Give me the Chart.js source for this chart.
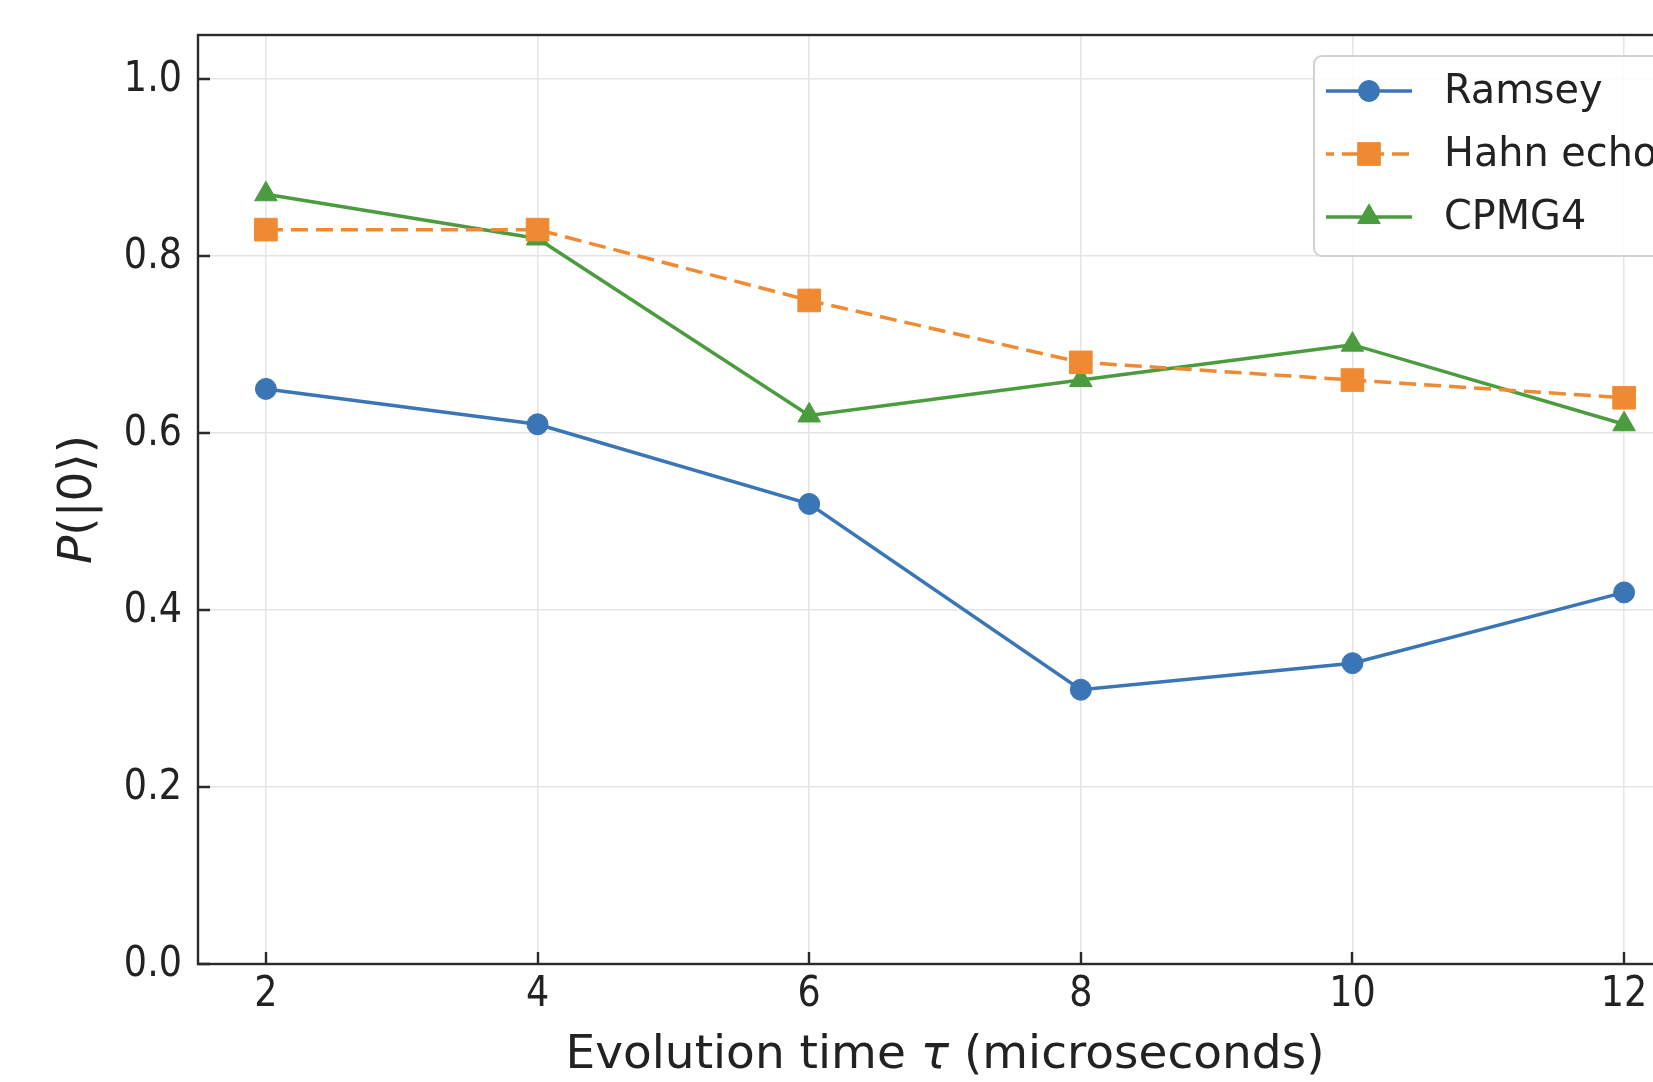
<!DOCTYPE html>
<html>
<head>
<meta charset="utf-8">
<script src="https://cdn.jsdelivr.net/npm/chart.js@4/dist/chart.umd.min.js"></script>
<style>
html,body{margin:0;padding:0;overflow:hidden;background:#fff;width:1653px;height:1082px;}
#wrap{width:1720px;height:1082px;}
</style>
</head>
<body>
<div id="wrap"><canvas id="c" width="1720" height="1082"></canvas></div>
<script>
const tau = [2, 4, 6, 8, 10, 12];
const ramsey = [0.65, 0.61, 0.52, 0.31, 0.34, 0.42];
const hahnEcho = [0.83, 0.83, 0.75, 0.68, 0.66, 0.64];
const cpmg4 = [0.87, 0.82, 0.62, 0.66, 0.70, 0.61];
const xTickValues = [2, 4, 6, 8, 10, 12];
const yTickValues = [0.0, 0.2, 0.4, 0.6, 0.8, 1.0];
const xTickLabels = ['2', '4', '6', '8', '10', '12'];
const yTickLabels = ['0.0', '0.2', '0.4', '0.6', '0.8', '1.0'];
const seriesNames = ['Ramsey', 'Hahn echo', 'CPMG4'];
const xTitleParts = [['Evolution time ', false], ['τ', true], [' (microseconds)', false]];
const yTitleParts = [['P', true], ['(|0⟩)', false]];

const FONT = 'DejaVu Sans';
const TICK_SIZE = 43, TICK_SX = 0.85, LEGEND_SIZE = 41, LEGEND_SX = 0.97, TITLE_SIZE = 47;
const BLUE = '#3a76b6', ORANGE = '#f08a32', GREEN = '#4a9c3e';
const INK = '#222';

function pts(vals){ return tau.map((x,i)=>({x:x, y:vals[i]})); }

function drawParts(ctx, parts, size, cx, cy){
  const widths = parts.map(([t, it])=>{ ctx.font = (it?'italic ':'') + size + 'px "' + FONT + '"'; return ctx.measureText(t).width; });
  const total = widths.reduce((a,b)=>a+b, 0);
  let x = cx - total/2;
  ctx.textAlign = 'left';
  ctx.textBaseline = 'middle';
  parts.forEach(([t, it], i)=>{
    ctx.font = (it?'italic ':'') + size + 'px "' + FONT + '"';
    ctx.fillText(t, x, cy);
    x += widths[i];
  });
}

function drawScaledText(ctx, text, x, y, sx, align){
  ctx.save();
  ctx.translate(x, y);
  ctx.scale(sx, 1);
  ctx.textAlign = align;
  ctx.textBaseline = 'middle';
  ctx.fillText(text, 0, 0);
  ctx.restore();
}

const framePlugin = {
  id: 'frame',
  afterDatasetsDraw(chart){
    const {ctx, chartArea:a, scales} = chart;
    ctx.save();
    ctx.strokeStyle = '#2a2a2a';
    ctx.lineWidth = 2.4;
    ctx.beginPath();
    yTickValues.forEach(v=>{
      const y = Math.round(scales.y.getPixelForValue(v));
      ctx.moveTo(a.left, y); ctx.lineTo(a.left + 12, y);
    });
    xTickValues.forEach(v=>{
      const x = Math.round(scales.x.getPixelForValue(v));
      ctx.moveTo(x, a.bottom); ctx.lineTo(x, a.bottom - 12);
    });
    ctx.stroke();
    ctx.strokeRect(a.left, a.top, a.right - a.left, a.bottom - a.top);
    // tick labels
    ctx.fillStyle = INK;
    ctx.font = TICK_SIZE + 'px "' + FONT + '"';
    yTickValues.forEach((v, i)=>{
      drawScaledText(ctx, yTickLabels[i], a.left - 16, scales.y.getPixelForValue(v) + 1, TICK_SX, 'right');
    });
    xTickValues.forEach((v, i)=>{
      drawScaledText(ctx, xTickLabels[i], scales.x.getPixelForValue(v), a.bottom + 31, TICK_SX, 'center');
    });
    ctx.restore();
  }
};

const legendPlugin = {
  id: 'customLegend',
  afterDraw(chart){
    const ctx = chart.ctx;
    const bx = 1314, by = 56, bw = 420, bh = 200;
    ctx.save();
    ctx.fillStyle = 'rgba(255,255,255,0.85)';
    ctx.strokeStyle = '#d2d2d2';
    ctx.lineWidth = 2;
    ctx.beginPath();
    ctx.roundRect(bx, by, bw, bh, 8);
    ctx.fill(); ctx.stroke();
    const rows = [91, 154, 217];
    chart.data.datasets.forEach((ds, i)=>{
      const y = rows[i];
      ctx.strokeStyle = ds.borderColor;
      ctx.lineWidth = ds.borderWidth;
      ctx.setLineDash(ds.borderDash || []);
      ctx.lineDashOffset = ds.borderDash ? 9 : 0;
      ctx.beginPath(); ctx.moveTo(1326, y); ctx.lineTo(1412, y); ctx.stroke();
      ctx.setLineDash([]);
      ctx.fillStyle = ds.backgroundColor; ctx.strokeStyle = ds.borderColor; ctx.lineWidth = 1;
      Chart.helpers.drawPoint(ctx, {pointStyle: ds.pointStyle, radius: ds.pointRadius, borderWidth: 1}, 1369, y);
      ctx.fillStyle = INK;
      ctx.font = LEGEND_SIZE + 'px "' + FONT + '"';
      drawScaledText(ctx, seriesNames[i], 1444, y + 1, LEGEND_SX, 'left');
    });
    ctx.restore();
  }
};

const titlesPlugin = {
  id: 'titles',
  afterDraw(chart){
    const ctx = chart.ctx, a = chart.chartArea;
    ctx.save();
    ctx.fillStyle = INK;
    drawParts(ctx, xTitleParts, TITLE_SIZE, (a.left + a.right)/2, 1056);
    ctx.translate(79, (a.top + a.bottom)/2);
    ctx.rotate(-Math.PI/2);
    drawParts(ctx, yTitleParts, TITLE_SIZE, 0, 0);
    ctx.restore();
  }
};

new Chart(document.getElementById('c'), {
  type: 'line',
  data: {
    datasets: [
      {label: seriesNames[0], data: pts(ramsey), borderColor: BLUE, backgroundColor: BLUE,
       borderWidth: 3.5, pointStyle: 'circle', pointRadius: 10.5, pointBorderWidth: 1},
      {label: seriesNames[1], data: pts(hahnEcho), borderColor: ORANGE, backgroundColor: ORANGE,
       borderWidth: 3.5, borderDash: [17, 8], pointStyle: 'rect', pointRadius: 16, pointBorderWidth: 1},
      {label: seriesNames[2], data: pts(cpmg4), borderColor: GREEN, backgroundColor: GREEN,
       borderWidth: 3.5, pointStyle: 'triangle', pointRadius: 13, pointBorderWidth: 1}
    ]
  },
  options: {
    responsive: false,
    animation: false,
    devicePixelRatio: 1,
    layout: {padding: {left: 0, top: 35, right: 28, bottom: 0}},
    plugins: {legend: {display: false}, tooltip: {enabled: false}},
    elements: {line: {tension: 0}},
    scales: {
      x: {
        type: 'linear', min: 1.5, max: 12.5,
        afterBuildTicks(s){ s.ticks = xTickValues.map(v=>({value:v})); },
        afterFit(s){ s.height = 118; s.paddingLeft = 0; s.paddingRight = 0; },
        grid: {color: '#e4e4e4', lineWidth: 1.5, drawTicks: false},
        border: {display: false},
        ticks: {display: false},
        title: {display: false}
      },
      y: {
        type: 'linear', min: 0, max: 1.05,
        afterBuildTicks(s){ s.ticks = yTickValues.map(v=>({value:v})); },
        afterFit(s){ s.width = 198; s.paddingTop = 0; s.paddingBottom = 0; },
        grid: {color: '#e4e4e4', lineWidth: 1.5, drawTicks: false},
        border: {display: false},
        ticks: {display: false},
        title: {display: false}
      }
    }
  },
  plugins: [framePlugin, legendPlugin, titlesPlugin]
});
</script>
</body>
</html>
